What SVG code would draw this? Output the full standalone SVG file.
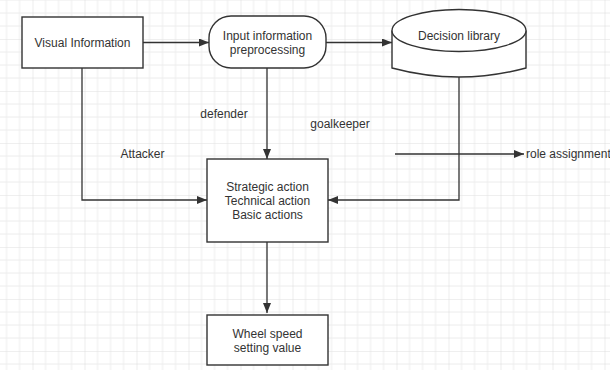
<svg xmlns="http://www.w3.org/2000/svg" width="610" height="370" viewBox="0 0 610 370">
<defs>
<pattern id="grid" x="-19.5" y="-13" width="52" height="52" patternUnits="userSpaceOnUse">
<path d="M13 0V52M26 0V52M39 0V52M0 13H52M0 26H52M0 39H52" stroke="#ececec" stroke-width="1" fill="none"/>
<path d="M0 0V52M0 0H52" stroke="#e0e0e0" stroke-width="1.2" fill="none"/>
</pattern>
<marker id="arr" viewBox="0 0 10 8" refX="10" refY="4" markerWidth="10" markerHeight="8" markerUnits="userSpaceOnUse" orient="auto">
<path d="M0 0L10 4L0 8Z" fill="#333"/>
</marker>
<style>
.n{fill:#fff;stroke:#333;stroke-width:1.4}
.c{fill:none;stroke:#333;stroke-width:1.3}
text{font-family:"Liberation Sans",Arial,sans-serif;font-size:12px;fill:#333;text-anchor:middle;dominant-baseline:central}
</style>
</defs>
<rect width="610" height="370" fill="#fff"/>
<rect width="610" height="370" fill="url(#grid)"/>
<g id="connectors">
<path class="c" d="M143 42.5H209" marker-end="url(#arr)"/>
<path class="c" d="M326 42.5H392" marker-end="url(#arr)"/>
<path class="c" d="M82 68V200H207" marker-end="url(#arr)"/>
<path class="c" d="M267 68V159" marker-end="url(#arr)"/>
<path class="c" d="M459 77V200H328" marker-end="url(#arr)"/>
<path class="c" d="M267 242V313" marker-end="url(#arr)"/>
<path class="c" d="M395 154H524" marker-end="url(#arr)"/>
</g>
<g id="visual">
<rect class="n" x="22" y="17" width="121" height="51"/>
<text x="82.5" y="43">Visual Information</text>
</g>
<g id="input">
<rect class="n" x="209" y="16" width="117" height="52" rx="22" ry="22"/>
<text x="267.5" y="36">Input information</text>
<text x="267.5" y="49.5">preprocessing</text>
</g>
<g id="library">
<path class="n" d="M392 30.5V68Q459 86 526 68V30.5"/>
<ellipse class="n" cx="459" cy="30.5" rx="67" ry="21"/>
<text x="459" y="36">Decision library</text>
</g>
<g id="actions">
<rect class="n" x="207" y="159" width="121" height="83"/>
<text x="267.5" y="187">Strategic action</text>
<text x="267.5" y="201">Technical action</text>
<text x="267.5" y="215">Basic actions</text>
</g>
<g id="wheel">
<rect class="n" x="207" y="315" width="121" height="50"/>
<text x="267.5" y="334">Wheel speed</text>
<text x="267.5" y="347.5">setting value</text>
</g>
<g id="labels">
<text x="224" y="114">defender</text>
<text x="340" y="124">goalkeeper</text>
<text x="142.5" y="154">Attacker</text>
<text x="526" y="154" style="text-anchor:start">role assignment</text>
</g>
</svg>
